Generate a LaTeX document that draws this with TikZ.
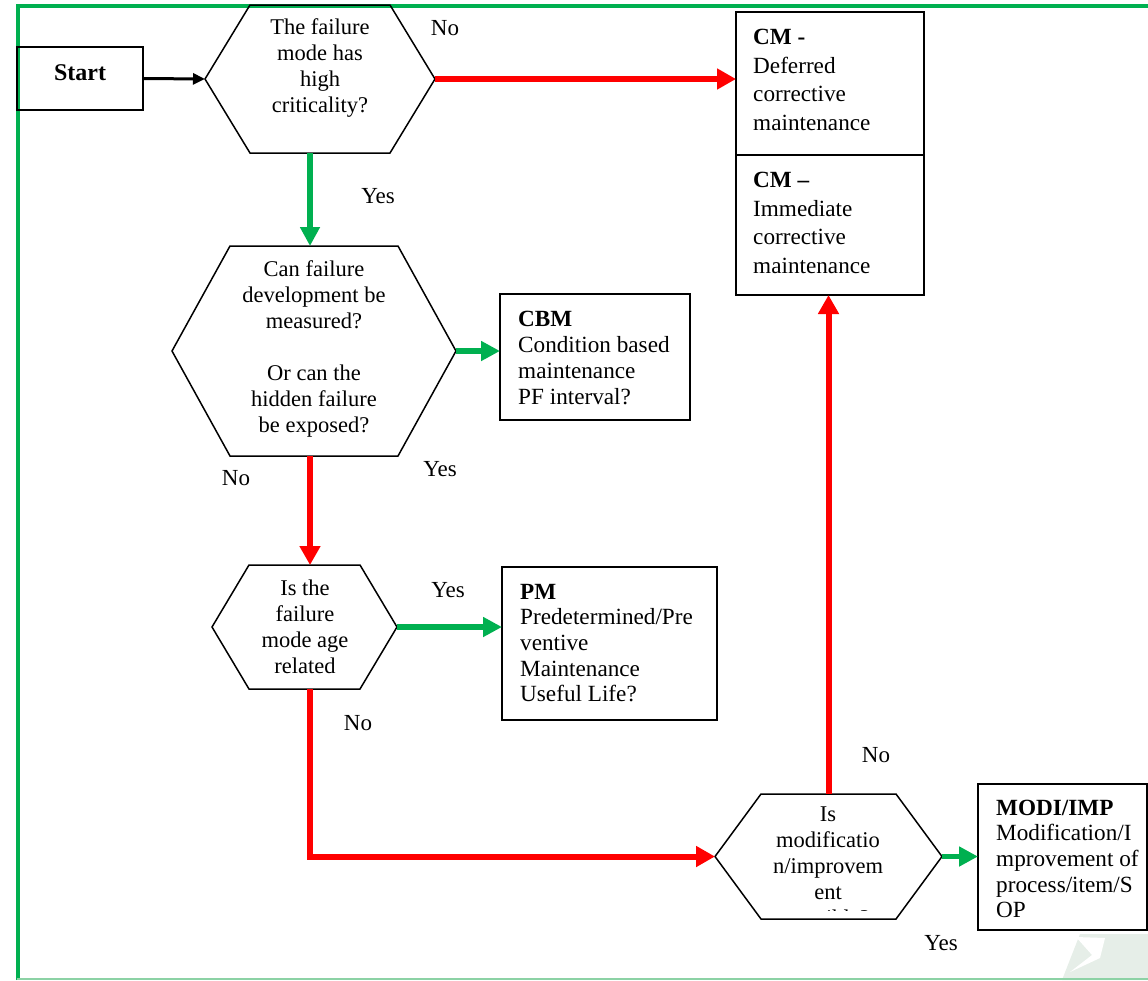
\documentclass[tikz,border=0pt]{standalone}
\usepackage{fontspec}
\setmainfont{Liberation Serif}
\usetikzlibrary{arrows.meta,calc}
\definecolor{xgreen}{HTML}{00B050}
\definecolor{xred}{HTML}{FF0000}
\definecolor{lightline}{RGB}{140,210,165}
\definecolor{wmark}{RGB}{230,238,232}
\newcommand{\hexpath}[2]{\draw[hexline] (#1.west) -- ([xshift=#2]#1.north west) -- ([xshift=-#2]#1.north east) -- (#1.east) -- ([xshift=-#2]#1.south east) -- ([xshift=#2]#1.south west) -- cycle;}
\begin{document}
\begin{tikzpicture}[x=1pt,y=-1pt,
 hexframe/.style={draw=none, inner sep=0pt, outer sep=0pt},
 hexline/.style={draw=black, line width=1.5pt, line join=miter},
 boxnode/.style={draw=black, line width=1.5pt, inner sep=0pt, outer sep=0pt, anchor=north west},
 hextext/.style={align=center, font=\fontsize{22.5}{26}\selectfont, inner sep=0pt},
 boxtext/.style={align=left, anchor=west, font=\fontsize{23.2}{25.7}\selectfont, inner sep=0pt},
 lbl/.style={font=\fontsize{23}{26}\selectfont, inner sep=0pt},
 redarrow/.style={draw=xred, line width=6pt, -{Triangle[length=19pt,width=20pt]}},
 greenarrow/.style={draw=xgreen, line width=5.5pt, -{Triangle[length=19pt,width=19pt]}},
 ]
\useasboundingbox (0,0) rectangle (1148,980);
% watermark
\fill[wmark] (1080,934) -- (1148,934) -- (1148,980) -- (1062,980) -- cycle;
\fill[white] (1076,937) -- (1105,938) -- (1100,958) -- (1070,972) -- (1092,955) -- cycle;
% border
\draw[xgreen, line width=4pt, line join=miter] (17.5,980) -- (17.5,5.5) -- (1148,5.5);
\draw[lightline, line width=1.5pt] (17,979) -- (1148,979);

% hexagon frames
\node[hexframe, minimum width=230pt, minimum height=148pt] (h1) at (320,79) {};
\node[hexframe, minimum width=284pt, minimum height=210pt] (h2) at (314,351) {};
\node[hexframe, minimum width=185pt, minimum height=124pt] (h3) at (304.5,627) {};
\node[hexframe, minimum width=227pt, minimum height=125pt] (h4) at (828.5,856.5) {};
\hexpath{h1}{45pt}
\hexpath{h2}{58pt}
\hexpath{h3}{37pt}
\hexpath{h4}{46pt}

\node[hextext] (t1) at (320,68.5) {The failure\\mode has\\high\\criticality?};
\node[hextext] (t2) at (314,348.5) {Can failure\\development be\\measured?\\[26pt]Or can the\\hidden failure\\be exposed?};
\node[hextext] (t3) at (305,627) {Is the\\failure\\mode age\\related};
\begin{scope}
\clip (700,790) rectangle (960,910.5);
\node[hextext] (t4) at (828,869) {Is\\modificatio\\n/improvem\\ent\\possible?};
\end{scope}

% boxes
\node[boxnode, minimum width=126pt, minimum height=63pt] (start) at (17,47) {};
\node[font=\fontsize{24}{26}\selectfont\bfseries, inner sep=0pt] (starttext) at (80,73) {Start};
\node[boxnode, minimum width=188pt, minimum height=283pt] (cm) at (736,12) {};
\draw[line width=1.5pt] (cm.west |- 0,155) coordinate (cmdl) -- (cm.east |- 0,155) coordinate (cmdr);
\node[boxnode, minimum width=190pt, minimum height=126pt] (cbm) at (500,294) {};
\node[boxnode, minimum width=215pt, minimum height=153pt] (pm) at (502,567) {};
\node[boxnode, minimum width=169pt, minimum height=146pt] (modi) at (978,784) {};

\node[boxtext, font=\fontsize{23.2}{28.5}\selectfont] (cmt1) at (753,80) {\textbf{CM -}\\Deferred\\corrective\\maintenance};
\node[boxtext, font=\fontsize{23.2}{28.5}\selectfont] (cmt2) at (753,223) {\textbf{CM –}\\Immediate\\corrective\\maintenance};
\node[boxtext] (cbmt) at (518,358) {\textbf{CBM}\\Condition based\\maintenance\\PF interval?};
\node[boxtext] (pmt) at (520,643) {\textbf{PM}\\Predetermined/Pre\\ventive\\Maintenance\\Useful Life?};
\node[boxtext] (modit) at (996,859) {\textbf{MODI/IMP}\\Modification/I\\mprovement of\\process/item/S\\OP};

% connectors
\draw[line width=3pt, -{Triangle[length=12pt,width=11pt]}] (start.east) -- (h1.west);
\draw[redarrow] (h1.east) -- (h1.east -| cm.west);
\draw[greenarrow] ([xshift=-10pt]h1.south) -- ([xshift=-10pt]h1.south |- h2.north);
\draw[greenarrow] (h2.east) -- (h2.east -| cbm.west);
\draw[redarrow] ([xshift=-4pt]h2.south) -- ([xshift=-4pt]h2.south |- h3.north);
\draw[greenarrow] (h3.east) -- (h3.east -| pm.west);
\draw[redarrow, line join=miter] ([xshift=5.5pt]h3.south) |- (h4.west);
\draw[redarrow] (h4.north) -- (h4.north |- cm.south);
\draw[greenarrow] (h4.east) -- (h4.east -| modi.west);

% labels
\node[lbl] (l1) at (445,28) {No};
\node[lbl] (l2) at (378,196) {Yes};
\node[lbl] (l3) at (236,478) {No};
\node[lbl] (l4) at (440,469) {Yes};
\node[lbl] (l5) at (448,590) {Yes};
\node[lbl] (l6) at (358,723) {No};
\node[lbl] (l7) at (876,755) {No};
\node[lbl] (l8) at (941,943) {Yes};
\end{tikzpicture}
\end{document}
